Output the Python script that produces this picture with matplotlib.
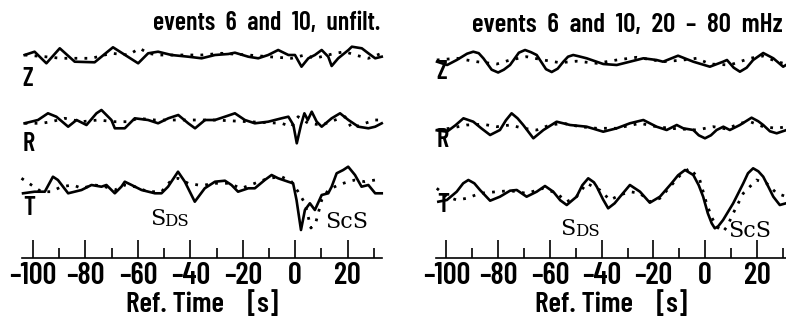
import matplotlib
matplotlib.use("Agg")
import matplotlib.pyplot as plt

# ---- left panel (unfiltered), time [s] and amplitude (arbitrary units) ----
lz_t = [-103.2, -99.4, -94.9, -89.8, -84.1, -76.5, -69.5, -59.9, -56.1, -52.3, -47.2,
        -40.8, -35.7, -30.6, -25.5, -23.0, -17.9, -14.1, -10.3, -6.5, -2.6, -0.1, 2.4,
        5.0, 7.5, 10.1, 12.6, 13.9, 16.4, 20.3, 21.6, 25.4, 27.9, 30.5, 33.0]
lz_a = [2, 5.3, -6.3, 8.7, -4.7, -5.3, 9.7, -6.3, 3.7, 5.3, 2,
        0.3, -1.3, 2, 3, 4.3, 0.3, -1.3, 2, 7, 2, 2, -9.7,
        -1.3, 2, 7, 0.3, -9, -1.3, 7, 10.3, 8.7, 3.7, -1.3, 0.3]
lz_dt = [-103.2, -95.5, -89.2, -77.7, -70.1, -63.7, -59.3, -56.1, -52.3, -35.7, -28.1,
         -17.9, -10.3, -1.4, 3.7, 7.5, 15.2, 19.0, 22.8, 27.9, 33.0]
lz_da = [2, 0.3, -1.3, -1.3, 3.7, 2, 8.7, 3.7, 2, 2, 3.7,
         2, 0.3, -1.3, 2, -1.3, 3.7, 5.3, 2, -1.3, 3.7]

lr_t = [-103.2, -98.1, -94.3, -91.1, -86.6, -83.4, -79.6, -75.8, -73.9, -70.1, -68.8,
        -65.0, -61.2, -56.1, -52.3, -48.4, -44.6, -40.8, -38.2, -34.4, -30.6, -26.8,
        -23.0, -19.2, -15.4, -10.3, -5.2, -2.6, -0.7, 0.6, 2.2, 3.5, 4.8, 6.3, 8.2,
        10.1, 13.9, 17.1, 20.3, 24.1, 27.9, 30.5, 33.0]
lr_a = [-1.3, 2, 8.7, 5.3, -4.7, 2, -3, 8.7, 12, 2, -6.3,
        -6.3, 3.7, 2, -1.3, 3.7, 7, -1.3, -6.3, 2, 2, 5.3,
        8.7, 2, -1.3, 0.3, 3.7, 5.3, -3, -21.3, -3, 8.7, 2, 10.3, 0.3,
        -4.7, 3.7, 8.7, 2, -4.7, -6.3, -4.7, -1.3]
lr_dt = [-103.2, -96.8, -93.0, -87.9, -81.5, -75.2, -68.8, -63.7, -59.9, -53.5, -43.3,
         -30.6, -17.9, -5.2, -1.4, 1.1, 5.0, 10.1, 15.2, 19.0, 21.6, 26.6, 30.5, 33.0]
lr_da = [-1.3, -1.3, 0.3, 3.7, 0.3, 2, 0.3, 0.3, 3.7, 2, 2,
         2, 0.3, -1.3, -4.7, 5.3, -1.3, -3, 2, 5.3, -6.3, -1.3, 2, 2]

lt_t = [-103.8, -99.4, -95.5, -92.4, -90.5, -86.6, -81.5, -77.7, -73.9, -72.0, -68.8,
        -66.3, -65.0, -62.4, -58.6, -53.5, -51.0, -48.5, -44.7, -42.1, -38.3, -34.5,
        -30.6, -26.8, -24.3, -21.8, -17.9, -15.4, -11.6, -9.0, -6.5, -2.7, -0.8, 0.5,
        2.2, 3.7, 5.6, 7.5, 10.1, 12.6, 13.9, 15.8, 18.3, 20.2, 22.8, 25.3, 27.9,
        30.5, 33.0]
lt_a = [-5.3, -3.7, -3.7, 11.3, 8, -5.3, -2, 3, 1.3, 3, -5.3,
        1.3, 6.3, 3, -2, -5.3, -5.3, 1.3, 16.3, 6.3, -13.7, -0.3,
        6.3, 7.3, 3, -3.7, -0.3, -0.3, 8, 13, 9.7, 6.3, 4.7, -12,
        -42, -22, -15.3, -22, -7, -5.3, 1.3, 14.7, 18, 21.3, 13, 1.3, 3,
        -5.3, -5.3]
lt_dt = [-104.4, -100.6, -96.8, -93.0, -89.2, -84.7, -81.5, -76.5, -72.6, -68.8, -65.0,
         -61.2, -56.1, -51.0, -47.2, -44.7, -40.8, -37.0, -34.5, -30.6, -25.6, -20.5,
         -15.4, -10.3, -5.2, -1.4, 1.1, 3.7, 6.0, 7.8, 10.1, 12.6, 16.4, 20.2, 22.8,
         26.6, 30.5, 33.0]
lt_da = [9.7, 3, -3.7, -3.7, 1.3, 3, -0.3, 3, 1.3, -2, 3,
         1.3, -3.7, -3.7, 8, 9.7, 4.7, 3, 3, 4.7, 4.7, -0.3,
         4.7, 9.7, 11.3, 6.3, -3.7, -15.3, -40, -35, -12, -2, 3, 6.3, 8,
         6.3, 8, 8]

# ---- right panel (20 - 80 mHz) ----
rz_t = [-103.6, -99.7, -96.0, -92.0, -89.6, -87.5, -85.7, -82.5, -80.0, -77.8, -75.4,
        -72.0, -69.6, -67.3, -65.1, -61.5, -59.3, -57.0, -54.8, -53.0, -51.0, -49.0,
        -45.8, -39.4, -34.2, -29.1, -23.9, -18.8, -16.3, -10.5, -4.6, 1.8, 6.9, 8.4,
        11.0, 13.4, 16.0, 18.5, 22.4, 26.3, 30.1, 31.2]
rz_a = [0, -3.3, 1.7, 8, 10, 8.5, 3.4, -8, -10.8, -8, -3.3,
        9, 11.7, 9.5, 6.7, -7.5, -10.3, -7, 0, 5, 6.7, 5.5,
        3.4, -2.3, -3.3, 0, 3.4, 1.7, 0, 6, 0, -5, 0, 1.7,
        -6, -10, -6, 1.7, 8.7, 3.4, -5, -3.3]
rz_dt = [-103.7, -96.0, -88.3, -80.5, -75.4, -69.0, -62.5, -56.1, -49.7, -41.9, -34.2,
         -26.5, -16.2, -8.5, -3.3, 1.8, 9.5, 17.3, 22.4, 27.6, 31.4]
rz_da = [1.7, 3.4, 0, -2.3, 1.7, 5, 1.7, -1, 0.5, -1.6, 1.7,
         4.4, 0, 1.7, 3.4, -2.3, -3.3, 3.4, 5.7, 0, -2.3]

rr_t = [-103.7, -99.8, -96.5, -93.4, -89.6, -86.5, -83.1, -79.3, -77.0, -74.8, -72.5,
        -70.3, -66.4, -62.5, -57.4, -52.2, -45.8, -39.4, -34.2, -29.1, -23.9, -18.8,
        -14.9, -11.0, -8.5, -4.6, -2.5, -0.1, 2.2, 4.4, 7.0, 9.5, 13.4, 17.9, 20.5,
        22.4, 25.0, 27.6, 31.4]
rr_a = [-2, -3.4, 3, 10, 6.6, 0, -6.7, -1.7, 8, 15, 10,
        3.3, -10, -1.7, 6.6, 3.3, 1.6, -3.4, 0, 5, 8.3, 1.6,
        -1.7, 3.3, 0, -1.7, -7, -10, -7, -1.7, 1.6, -1.7, 3.3, 10.6, 7,
        3.3, -3, -5, -1.7]
rr_dt = [-103.7, -98.6, -92.1, -85.7, -80.5, -75.4, -70.3, -65.1, -60.0, -54.8, -48.4,
         -41.9, -34.2, -25.2, -18.8, -13.6, -3.3, 3.1, 8.3, 13.4, 17.3, 22.4, 27.6, 31.4]
rr_da = [-1.7, 0, 3.3, 4, 1.6, 3.3, 0, -1.7, 3.3, 5, 1.6,
         0, 0, 5, 1.6, 0, -1.7, 1.6, -0.7, 5, 6.6, 1.6, 0, 1.6]

rt_t = [-103.1, -99.8, -96.0, -93.5, -91.5, -89.2, -87.0, -83.1, -79.3, -75.4, -72.8,
        -69.0, -65.1, -61.9, -58.7, -56.0, -53.5, -49.7, -47.5, -45.2, -43.0, -41.9,
        -39.5, -37.5, -35.0, -32.9, -29.1, -25.2, -21.4, -17.5, -13.0, -10.5, -7.8,
        -4.6, -2.5, -0.8, 1.0, 2.5, 3.7, 5.0, 6.9, 10.8, 14.7, 16.5, 18.5, 20.5, 22.4,
        24.5, 26.3, 28.8, 31.2]
rt_a = [-8.4, -6.7, 1.6, 10, 13.3, 10, 3.3, -7.4, -3.4, 2.6, 3.3,
        -3.4, 1.6, 7.3, 1.6, -7, -11.7, -3.4, 8, 15, 11, 6.6,
        -6, -15, -10, -3.4, 8.3, 1.6, -9.4, -3.4, 10, 18, 23.3,
        18.3, 8, -3.4, -20, -30, -35, -33, -26.7, -10, 10, 20, 25, 22, 16.6,
        6, -3.4, -11.7, -10]
rt_dt = [-103.7, -99.8, -96.0, -92.1, -87.0, -80.5, -75.4, -69.0, -62.5, -57.4, -53.5,
         -49.7, -45.8, -40.7, -36.8, -32.9, -29.1, -25.2, -21.4, -17.5, -12.4, -9.0,
         -5.9, -2.1, 0.5, 2.5, 4.4, 6.9, 8.5, 10.8, 14.7, 19.8, 23.7, 27.6, 31.4]
rt_da = [5, -3.4, -6.7, -5, 0, 1.6, 2.6, 0, 5, 0, -8.4,
         -3.4, 10, 3.3, -6.7, -1.7, 1.6, 0, -8.4, -5, 10, 20,
         25, 13.3, -10, -24, -33.4, -38.4, -33, -20, 0, 13.3, 10, 0, -3.4]

titles = ["events  6  and  10,  unfilt.", "events  6  and  10,  20  \u2013  80  mHz"]
major_ticks = list(range(-100, 21, 20))
minor_ticks = list(range(-90, 31, 20))

panels = [
    dict(rect=[22 / 786, 0, 360 / 786, 1], xlim=(-104.2, 33.1),
         traces=[(lz_t, lz_a, lz_dt, lz_da), (lr_t, lr_a, lr_dt, lr_da),
                 (lt_t, lt_a, lt_dt, lt_da)],
         base=[201, 136, 70], lab_y=[191, 126, 62],
         sds=(-55.5, 33), scs=(11.3, 30), title_x=32.3, title_y=228, title_fs=18.7),
    dict(rect=[436 / 786, 0, 350 / 786, 1], xlim=(-104.0, 31.2),
         traces=[(rz_t, rz_a, rz_dt, rz_da), (rr_t, rr_a, rr_dt, rr_da),
                 (rt_t, rt_a, rt_dt, rt_da)],
         base=[196.3, 129.7, 64.7], lab_y=[198, 130, 65],
         sds=(-56.1, 23), scs=(8.8, 21), title_x=30.0, title_y=226, title_fs=19.5),
]

sans = ["Barlow Condensed", "Liberation Sans", "DejaVu Sans"]
serif = ["DejaVu Serif"]

fig = plt.figure(figsize=(7.86, 3.25), dpi=100)

for i, p in enumerate(panels):
    ax = fig.add_axes(p["rect"])
    ax.set_xlim(*p["xlim"])
    ax.set_ylim(-67, 258)
    for (t, a, dt, da), b, ly, name in zip(p["traces"], p["base"], p["lab_y"], "ZRT"):
        ax.plot(t, [b + v for v in a], color="black", lw=1.9, solid_joinstyle="round",
                clip_on=False)
        ax.plot(dt, [b + v for v in da], color="black", lw=2.0, ls=(0, (1.0, 2.6)),
                clip_on=False)
        ax.text(p["xlim"][0] + 0.3, ly, name, ha="left", va="top", fontsize=19,
                family=sans, weight="semibold")

    s1 = ax.text(p["sds"][0], p["sds"][1], "S", fontsize=16, family=serif,
                 ha="left", va="baseline")
    ax.annotate("DS", xy=(1, 0), xycoords=s1, xytext=(-0.5, 0),
                textcoords="offset points", fontsize=12, family=serif,
                ha="left", va="bottom")
    ax.text(p["scs"][0], p["scs"][1], "ScS", fontsize=16, family=serif,
            ha="left", va="baseline")
    ax.text(p["title_x"], p["title_y"], titles[i], ha="right", va="baseline",
            fontsize=p["title_fs"], family=sans, weight="semibold")

    for s in ["top", "left", "right"]:
        ax.spines[s].set_visible(False)
    ax.spines["bottom"].set_position(("data", 0))
    ax.spines["bottom"].set_linewidth(1.2)
    ax.set_yticks([])
    ax.set_xticks(major_ticks)
    ax.set_xticks(minor_ticks, minor=True)
    ax.set_xticklabels([str(v).replace("-", "\u2013") for v in major_ticks],
                       family=sans, weight="semibold")
    ax.tick_params(which="major", direction="in", length=13, width=1.2,
                   labelsize=22, pad=3)
    ax.tick_params(which="minor", direction="in", length=7, width=1.2)
    ax.set_xlabel("Ref. Time    [s]", fontsize=21, family=sans, weight="semibold",
                  labelpad=0)
    ax.patch.set_visible(False)

fig.savefig("out.png", dpi=100)
